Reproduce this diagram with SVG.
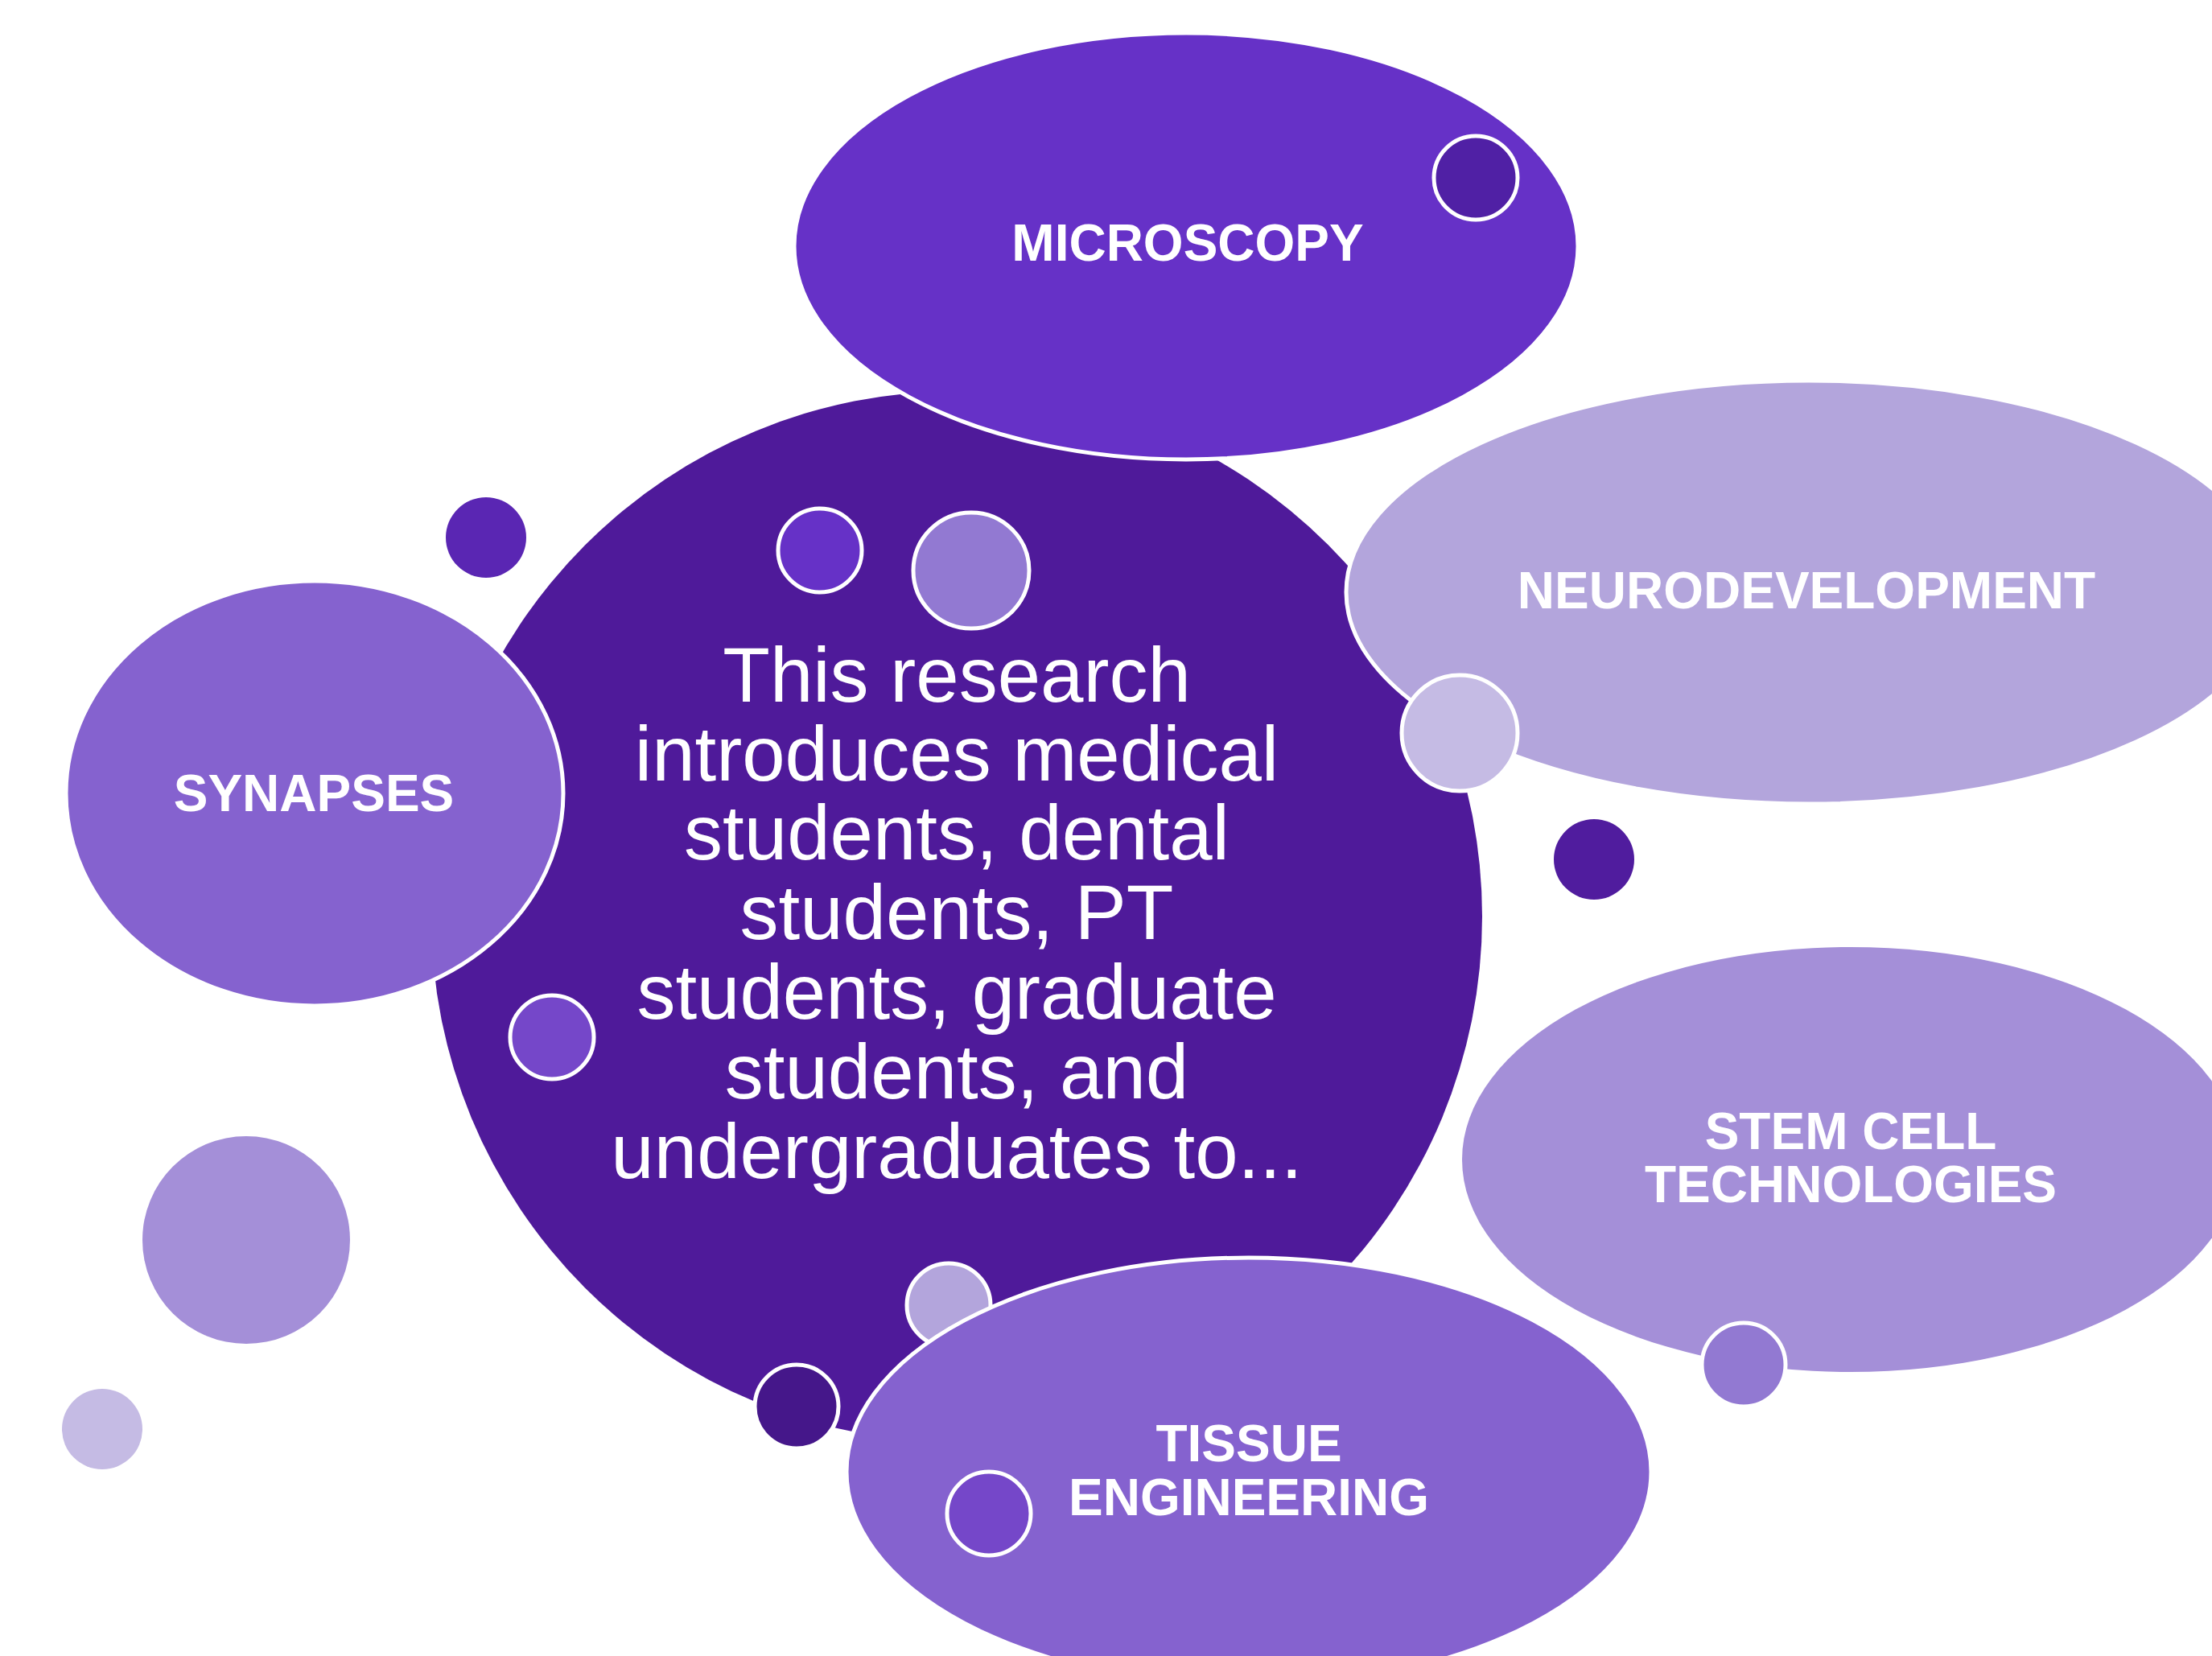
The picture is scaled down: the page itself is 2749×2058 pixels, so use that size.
<svg xmlns="http://www.w3.org/2000/svg" width="2749" height="2058" viewBox="0 0 2749 2058">
  <style>
    .lbl { font-family: "Liberation Sans", Arial, sans-serif; font-weight: bold; font-size: 64px; fill: #ffffff; text-anchor: middle; }
    .body { font-family: "Liberation Sans", Arial, sans-serif; font-size: 96px; fill: #ffffff; text-anchor: middle; }
    .ring { stroke: #ffffff; stroke-width: 5; }
  </style>
  <rect width="2749" height="2058" fill="#ffffff"/>

  <!-- centre statement -->
  <g id="node-center">
    <circle cx="1189" cy="1139" r="653" fill="#4F1A9A"/>
  </g>

  <!-- decorative dot tucked under the tissue bubble -->
  <g id="dot-under-tissue">
    <circle class="ring" cx="1179" cy="1622" r="52" fill="#B3A5DC"/>
  </g>

  <g id="node-microscopy">
    <ellipse class="ring" cx="1474" cy="306" rx="487" ry="265" fill="#6631C7"/>
    <text class="lbl" x="1476" y="324">MICROSCOPY</text>
  </g>

  <g id="node-neurodevelopment">
    <ellipse class="ring" cx="2248" cy="736" rx="575" ry="263" fill="#B3A5DC"/>
    <text class="lbl" x="2245" y="756">NEURODEVELOPMENT</text>
  </g>

  <g id="node-synapses">
    <ellipse class="ring" cx="391" cy="986" rx="309" ry="264" fill="#8562CF"/>
    <text class="lbl" x="390" y="1008">SYNAPSES</text>
  </g>

  <g id="node-stem-cell">
    <ellipse cx="2300" cy="1441" rx="483" ry="264" fill="#A48FD8"/>
    <text class="lbl" x="2300" y="1428">STEM CELL</text>
    <text class="lbl" x="2300" y="1494">TECHNOLOGIES</text>
  </g>

  <g id="node-tissue">
    <ellipse class="ring" cx="1552" cy="1829" rx="500" ry="266" fill="#8562CF"/>
    <text class="lbl" x="1552" y="1816">TISSUE</text>
    <text class="lbl" x="1552" y="1883">ENGINEERING</text>
  </g>

  <g id="node-center-text">
    <text class="body" x="1189" y="872">This research</text>
    <text class="body" x="1189" y="970">introduces medical</text>
    <text class="body" x="1189" y="1068">students, dental</text>
    <text class="body" x="1189" y="1167">students, PT</text>
    <text class="body" x="1189" y="1266">students, graduate</text>
    <text class="body" x="1189" y="1365">students, and</text>
    <text class="body" x="1189" y="1464">undergraduates to...</text>
  </g>

  <!-- decorative dots -->
  <g id="dots">
    <circle class="ring" cx="1834" cy="221" r="52" fill="#5020A5"/>
    <circle cx="604" cy="668" r="50" fill="#5A26B3"/>
    <circle class="ring" cx="1019" cy="684" r="52" fill="#6631C7"/>
    <circle class="ring" cx="1207" cy="709" r="72" fill="#9279D2"/>
    <circle class="ring" cx="1814" cy="911" r="72" fill="#C5BBE4"/>
    <circle cx="1981" cy="1068" r="50" fill="#501C9E"/>
    <circle class="ring" cx="686" cy="1289" r="52" fill="#7547C9"/>
    <circle cx="306" cy="1541" r="129" fill="#A48FD8"/>
    <circle cx="127" cy="1776" r="50" fill="#C5BBE4"/>
    <circle class="ring" cx="990" cy="1748" r="52" fill="#45178A"/>
    <circle class="ring" cx="2167" cy="1696" r="52" fill="#9279D2"/>
    <circle class="ring" cx="1229" cy="1881" r="52" fill="#7547C9"/>
  </g>

  <!-- no connectors in this layout -->
  <g id="connectors"/>
</svg>
